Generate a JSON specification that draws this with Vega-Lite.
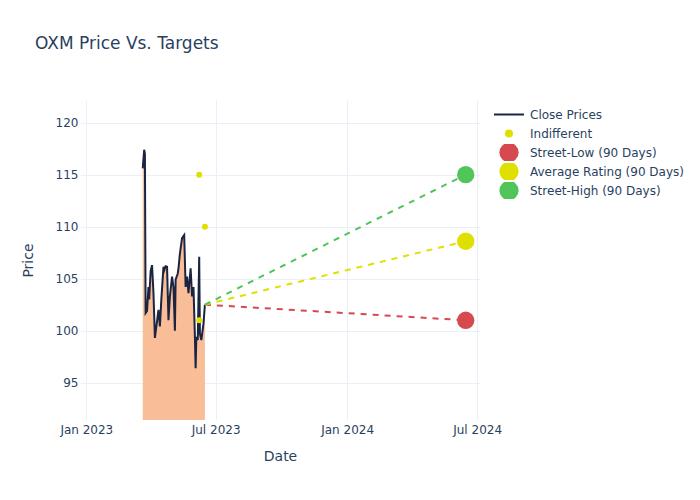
{
  "$schema": "https://vega.github.io/schema/vega-lite/v6.json",
  "autosize": "none",
  "width": 400,
  "height": 320,
  "padding": {"left": 80, "top": 100, "right": 220, "bottom": 80},
  "background": "white",
  "title": {"text": "OXM Price Vs. Targets", "anchor": "start", "frame": "group", "dx": -45, "offset": 47, "fontSize": 17, "font": "DejaVu Sans", "fontWeight": "normal", "color": "#2a3f5f"},
  "config": {
    "view": {"stroke": null},
    "axis": {"grid": true, "gridColor": "#ebf0f8", "gridWidth": 1, "domain": false, "ticks": false, "labelColor": "#2a3f5f", "labelFont": "DejaVu Sans", "labelFontSize": 12, "titleColor": "#2a3f5f", "titleFont": "DejaVu Sans", "titleFontSize": 14, "titleFontWeight": "normal"}
  },
  "datasets": {
    "close": [
      {"date": "2023-03-21", "price": 115.6},
      {"date": "2023-03-23", "price": 117.4},
      {"date": "2023-03-24", "price": 117.0},
      {"date": "2023-03-25", "price": 101.7},
      {"date": "2023-03-27", "price": 101.9},
      {"date": "2023-03-29", "price": 104.2},
      {"date": "2023-03-30", "price": 103.0},
      {"date": "2023-04-01", "price": 105.7},
      {"date": "2023-04-03", "price": 106.3},
      {"date": "2023-04-05", "price": 103.6},
      {"date": "2023-04-07", "price": 99.3},
      {"date": "2023-04-09", "price": 100.4},
      {"date": "2023-04-12", "price": 102.0},
      {"date": "2023-04-14", "price": 100.4},
      {"date": "2023-04-16", "price": 103.0},
      {"date": "2023-04-19", "price": 106.15},
      {"date": "2023-04-20", "price": 105.8},
      {"date": "2023-04-22", "price": 106.2},
      {"date": "2023-04-24", "price": 106.15},
      {"date": "2023-04-26", "price": 101.0},
      {"date": "2023-04-28", "price": 103.3},
      {"date": "2023-05-01", "price": 105.2},
      {"date": "2023-05-03", "price": 104.2},
      {"date": "2023-05-05", "price": 100.0},
      {"date": "2023-05-06", "price": 104.9},
      {"date": "2023-05-09", "price": 105.5},
      {"date": "2023-05-10", "price": 106.0},
      {"date": "2023-05-12", "price": 107.4},
      {"date": "2023-05-15", "price": 108.9},
      {"date": "2023-05-17", "price": 109.1},
      {"date": "2023-05-18", "price": 109.2},
      {"date": "2023-05-20", "price": 104.2},
      {"date": "2023-05-22", "price": 105.2},
      {"date": "2023-05-24", "price": 103.6},
      {"date": "2023-05-27", "price": 106.0},
      {"date": "2023-05-29", "price": 103.3},
      {"date": "2023-05-31", "price": 104.2},
      {"date": "2023-06-02", "price": 99.4},
      {"date": "2023-06-03", "price": 96.4},
      {"date": "2023-06-04", "price": 99.4},
      {"date": "2023-06-06", "price": 99.1},
      {"date": "2023-06-08", "price": 107.1},
      {"date": "2023-06-09", "price": 99.7},
      {"date": "2023-06-11", "price": 99.1},
      {"date": "2023-06-14", "price": 100.7},
      {"date": "2023-06-16", "price": 102.5}
    ],
    "targets": [
      {"target": "Street-Low (90 Days)", "date": "2023-06-16", "price": 102.5},
      {"target": "Street-Low (90 Days)", "date": "2024-06-15", "price": 101.0},
      {"target": "Average Rating (90 Days)", "date": "2023-06-16", "price": 102.5},
      {"target": "Average Rating (90 Days)", "date": "2024-06-15", "price": 108.6},
      {"target": "Street-High (90 Days)", "date": "2023-06-16", "price": 102.5},
      {"target": "Street-High (90 Days)", "date": "2024-06-15", "price": 115.0}
    ],
    "points": [
      {"series": "Indifferent", "date": "2023-06-08", "price": 115.0},
      {"series": "Indifferent", "date": "2023-06-16", "price": 110.0},
      {"series": "Indifferent", "date": "2023-06-08", "price": 101.0},
      {"series": "Street-Low (90 Days)", "date": "2024-06-15", "price": 101.0},
      {"series": "Average Rating (90 Days)", "date": "2024-06-15", "price": 108.6},
      {"series": "Street-High (90 Days)", "date": "2024-06-15", "price": 115.0}
    ]
  },
  "encoding": {
    "x": {"field": "date", "type": "temporal", "title": "Date",
      "scale": {"type": "utc", "domain": [{"year": 2022, "month": 12, "date": 23, "hours": 4, "utc": true}, {"year": 2024, "month": 7, "date": 5, "utc": true}]},
      "axis": {"labelExpr": "utcFormat(datum.value, '%b %Y')", "labelPadding": 4, "titlePadding": 14, "labelFlush": false,
        "values": [{"year": 2023, "month": 1, "date": 1, "utc": true}, {"year": 2023, "month": 7, "date": 1, "utc": true}, {"year": 2024, "month": 1, "date": 1, "utc": true}, {"year": 2024, "month": 7, "date": 1, "utc": true}]}},
    "y": {"field": "price", "type": "quantitative", "title": "Price",
      "scale": {"domain": [91.41, 122.18], "zero": false, "nice": false},
      "axis": {"values": [95, 100, 105, 110, 115, 120], "labelPadding": 2, "titlePadding": 20}}
  },
  "layer": [
    {
      "data": {"name": "close"},
      "mark": {"type": "area", "color": "#f9bd98", "opacity": 1},
      "encoding": {"y2": {"datum": 91.41}}
    },
    {
      "data": {"name": "close"},
      "mark": {"type": "line", "color": "#1b2541", "strokeWidth": 2}
    },
    {
      "data": {"name": "targets"},
      "mark": {"type": "line", "strokeDash": [6, 6], "strokeWidth": 2},
      "encoding": {
        "stroke": {"field": "target", "type": "nominal", "legend": null,
          "scale": {"domain": ["Street-Low (90 Days)", "Average Rating (90 Days)", "Street-High (90 Days)"], "range": ["#d64a4f", "#dfdf00", "#51c45a"]}}
      }
    },
    {
      "data": {"name": "points"},
      "mark": {"type": "point", "filled": true, "opacity": 1},
      "encoding": {
        "color": {"field": "series", "type": "nominal",
          "scale": {"domain": ["Close Prices", "Indifferent", "Street-Low (90 Days)", "Average Rating (90 Days)", "Street-High (90 Days)"], "range": ["#1b2541", "#dfdf00", "#d64a4f", "#dfdf00", "#51c45a"]},
          "legend": {"title": null, "orient": "none", "legendX": 413, "legendY": 6, "labelFontSize": 12, "labelColor": "#2a3f5f", "labelFont": "DejaVu Sans", "labelOffset": 5, "labelLimit": 300, "symbolOpacity": 1, "rowPadding": 2, "clipHeight": 17,
            "encode": {"symbols": {"update": {"stroke": {"scale": "color", "field": "value"}, "strokeWidth": {"value": 2}, "size": {"signal": "datum.value === 'Close Prices' ? 900 : datum.value === 'Indifferent' ? 20 : 150"}}}}}},
        "size": {"field": "series", "type": "nominal",
          "scale": {"type": "ordinal", "domain": ["Close Prices", "Indifferent", "Street-Low (90 Days)", "Average Rating (90 Days)", "Street-High (90 Days)"], "range": [900, 36, 300, 300, 300]}},
        "shape": {"field": "series", "type": "nominal",
          "scale": {"domain": ["Close Prices", "Indifferent", "Street-Low (90 Days)", "Average Rating (90 Days)", "Street-High (90 Days)"], "range": ["stroke", "circle", "circle", "circle", "circle"]}}
      }
    }
  ]
}
